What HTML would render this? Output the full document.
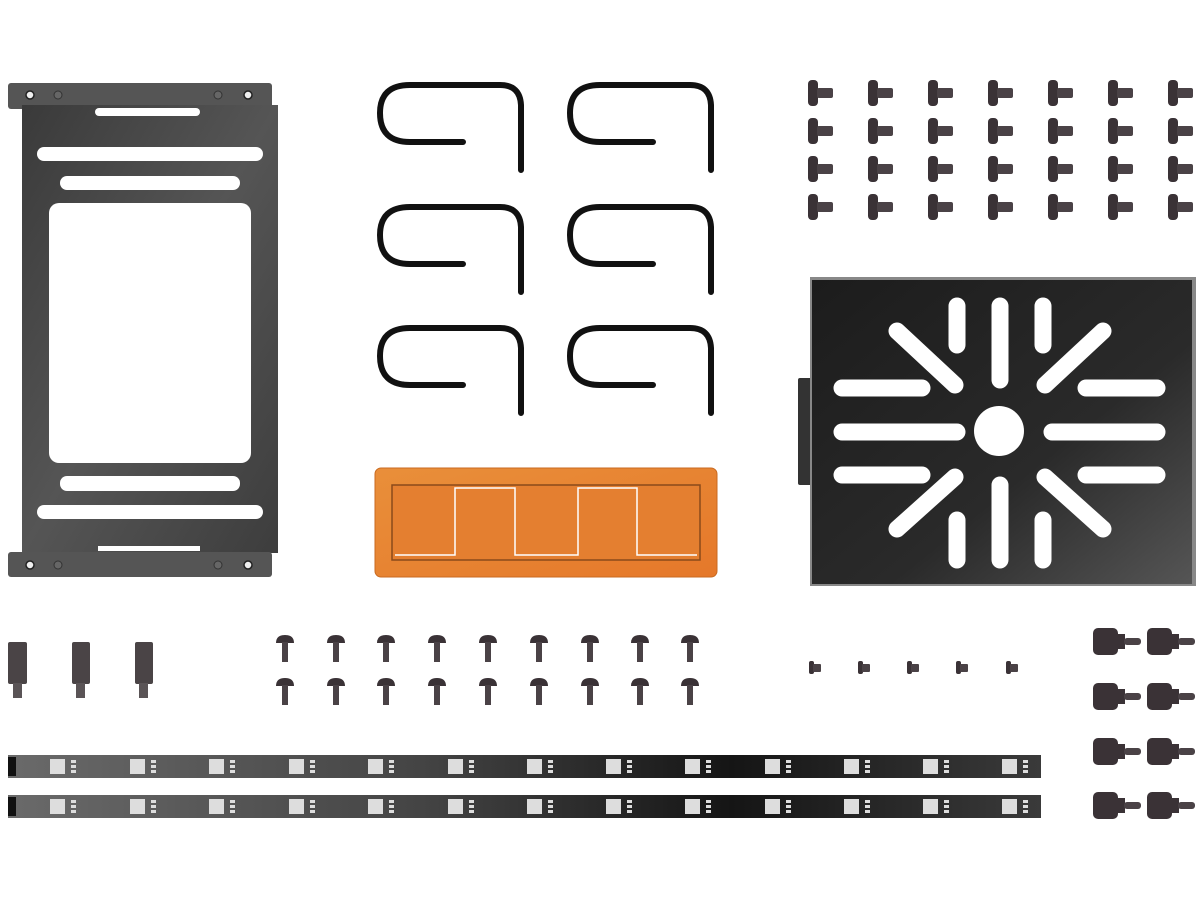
<!DOCTYPE html>
<html><head><meta charset="utf-8"><style>html,body{margin:0;padding:0;background:#fff}svg{display:block}</style></head><body>
<svg width="1200" height="900" viewBox="0 0 1200 900" xmlns="http://www.w3.org/2000/svg">
<defs>
<linearGradient id="plate" x1="0" y1="0" x2="1" y2="1"><stop offset="0" stop-color="#3a3a3a"/><stop offset="0.5" stop-color="#555"/><stop offset="1" stop-color="#3d3d3d"/></linearGradient>
<linearGradient id="tray" x1="0" y1="0" x2="1" y2="1"><stop offset="0" stop-color="#1c1c1c"/><stop offset="0.6" stop-color="#2a2a2a"/><stop offset="1" stop-color="#555"/></linearGradient>
<linearGradient id="strip" x1="0" y1="0" x2="1" y2="0"><stop offset="0" stop-color="#6a6a6a"/><stop offset="0.4" stop-color="#444"/><stop offset="0.7" stop-color="#151515"/><stop offset="1" stop-color="#3a3a3a"/></linearGradient>
<linearGradient id="orange" x1="0" y1="0" x2="1" y2="1"><stop offset="0" stop-color="#e98f3a"/><stop offset="1" stop-color="#e5782a"/></linearGradient>
<g id="ts"><rect x="0" y="0" width="10" height="26" rx="4" fill="#3a3236"/><rect x="9" y="8" width="16" height="10" rx="2" fill="#4a4246"/></g>
<g id="bs"><path d="M0 8 Q0 0 9 0 Q18 0 18 8 Z" fill="#3a3236"/><rect x="6" y="7" width="6" height="20" fill="#4a4246"/></g>
<g id="ss"><rect x="0" y="0" width="5" height="13" rx="2" fill="#3a3236"/><rect x="4" y="3" width="8" height="8" rx="1" fill="#4a4246"/></g>
<g id="big"><rect x="0" y="0" width="25" height="27" rx="5" fill="#3a3236"/><rect x="24" y="6" width="8" height="15" fill="#3a3236"/><rect x="31" y="10" width="17" height="7" rx="3" fill="#4a4246"/></g>
<g id="clip" fill="none" stroke="#111" stroke-width="6" stroke-linecap="round"><path d="M463 142 H410 Q380 142 380 113 Q380 85 410 85 H500 Q520 85 521 105 V170"/></g>
<g id="led"><rect x="0" y="4" width="15" height="15" fill="#ddd"/><rect x="21" y="5" width="5" height="3" fill="#ddd"/><rect x="21" y="10" width="5" height="3" fill="#ddd"/><rect x="21" y="15" width="5" height="3" fill="#ddd"/></g>
</defs>

<g>
<rect x="8" y="83" width="264" height="26" rx="3" fill="#555"/>
<rect x="22" y="105" width="256" height="448" fill="url(#plate)"/>
<rect x="8" y="552" width="264" height="25" rx="3" fill="#555"/>
<rect x="95" y="108" width="105" height="8" rx="4" fill="#fff"/>
<rect x="98" y="546" width="102" height="5" fill="#fff"/>
<g fill="#fff"><rect x="37" y="147" width="226" height="14" rx="7"/><rect x="60" y="176" width="180" height="14" rx="7"/><rect x="49" y="203" width="202" height="260" rx="10"/><rect x="60" y="476" width="180" height="15" rx="7"/><rect x="37" y="505" width="226" height="14" rx="7"/></g>
<g fill="#eee" stroke="#222" stroke-width="1.5"><circle cx="30" cy="95" r="4"/><circle cx="248" cy="95" r="4"/><circle cx="30" cy="565" r="4"/><circle cx="248" cy="565" r="4"/></g>
<g fill="#666" stroke="#333"><circle cx="58" cy="95" r="4"/><circle cx="218" cy="95" r="4"/><circle cx="58" cy="565" r="4"/><circle cx="218" cy="565" r="4"/></g>
</g>

<use href="#clip"/><use href="#clip" x="190"/>
<use href="#clip" y="122"/><use href="#clip" x="190" y="122"/>
<use href="#clip" y="243"/><use href="#clip" x="190" y="243"/>

<rect x="375" y="468" width="342" height="109" rx="6" fill="url(#orange)" stroke="#c96a20"/>
<rect x="392" y="485" width="308" height="75" fill="#e47f30" stroke="#8a4a1a" stroke-width="1.5"/>
<path d="M395 555 H455 V488 H515 V555 H578 V488 H637 V555 H697" fill="none" stroke="#fff" stroke-width="1.5"/>

<g>
<use href="#ts" x="808" y="80"/><use href="#ts" x="868" y="80"/><use href="#ts" x="928" y="80"/><use href="#ts" x="988" y="80"/><use href="#ts" x="1048" y="80"/><use href="#ts" x="1108" y="80"/><use href="#ts" x="1168" y="80"/>
<use href="#ts" x="808" y="118"/><use href="#ts" x="868" y="118"/><use href="#ts" x="928" y="118"/><use href="#ts" x="988" y="118"/><use href="#ts" x="1048" y="118"/><use href="#ts" x="1108" y="118"/><use href="#ts" x="1168" y="118"/>
<use href="#ts" x="808" y="156"/><use href="#ts" x="868" y="156"/><use href="#ts" x="928" y="156"/><use href="#ts" x="988" y="156"/><use href="#ts" x="1048" y="156"/><use href="#ts" x="1108" y="156"/><use href="#ts" x="1168" y="156"/>
<use href="#ts" x="808" y="194"/><use href="#ts" x="868" y="194"/><use href="#ts" x="928" y="194"/><use href="#ts" x="988" y="194"/><use href="#ts" x="1048" y="194"/><use href="#ts" x="1108" y="194"/><use href="#ts" x="1168" y="194"/>
</g>

<rect x="798" y="378" width="16" height="107" rx="2" fill="#333"/>
<rect x="810" y="277" width="386" height="309" fill="#888"/>
<rect x="812" y="280" width="380" height="304" fill="url(#tray)"/>
<g stroke="#fff" stroke-width="17" stroke-linecap="round" fill="none">
<line x1="842" y1="388" x2="922" y2="388"/><line x1="842" y1="432" x2="957" y2="432"/><line x1="842" y1="475" x2="922" y2="475"/>
<line x1="1086" y1="388" x2="1157" y2="388"/><line x1="1052" y1="432" x2="1157" y2="432"/><line x1="1086" y1="475" x2="1157" y2="475"/>
<line x1="1000" y1="306" x2="1000" y2="380"/><line x1="1000" y1="485" x2="1000" y2="560"/>
<line x1="957" y1="306" x2="957" y2="345"/><line x1="1043" y1="306" x2="1043" y2="345"/>
<line x1="957" y1="520" x2="957" y2="560"/><line x1="1043" y1="520" x2="1043" y2="560"/>
<line x1="897" y1="331" x2="955" y2="385"/><line x1="1103" y1="331" x2="1045" y2="385"/>
<line x1="897" y1="529" x2="955" y2="477"/><line x1="1103" y1="529" x2="1045" y2="477"/>
</g>
<circle cx="999" cy="431" r="25" fill="#fff"/>

<g>
<rect x="8" y="642" width="19" height="42" rx="2" fill="#4a4446"/><rect x="13" y="683" width="9" height="15" fill="#5a5456"/>
<rect x="72" y="642" width="18" height="42" rx="2" fill="#4a4446"/><rect x="76" y="683" width="9" height="15" fill="#5a5456"/>
<rect x="135" y="642" width="18" height="42" rx="2" fill="#4a4446"/><rect x="139" y="683" width="9" height="15" fill="#5a5456"/>
</g>

<g>
<use href="#bs" x="276" y="635"/><use href="#bs" x="327" y="635"/><use href="#bs" x="377" y="635"/><use href="#bs" x="428" y="635"/><use href="#bs" x="479" y="635"/><use href="#bs" x="530" y="635"/><use href="#bs" x="581" y="635"/><use href="#bs" x="631" y="635"/><use href="#bs" x="681" y="635"/>
<use href="#bs" x="276" y="678"/><use href="#bs" x="327" y="678"/><use href="#bs" x="377" y="678"/><use href="#bs" x="428" y="678"/><use href="#bs" x="479" y="678"/><use href="#bs" x="530" y="678"/><use href="#bs" x="581" y="678"/><use href="#bs" x="631" y="678"/><use href="#bs" x="681" y="678"/>
</g>

<use href="#ss" x="809" y="661"/><use href="#ss" x="858" y="661"/><use href="#ss" x="907" y="661"/><use href="#ss" x="956" y="661"/><use href="#ss" x="1006" y="661"/>

<use href="#big" x="1093" y="628"/><use href="#big" x="1147" y="628"/>
<use href="#big" x="1093" y="683"/><use href="#big" x="1147" y="683"/>
<use href="#big" x="1093" y="738"/><use href="#big" x="1147" y="738"/>
<use href="#big" x="1093" y="792"/><use href="#big" x="1147" y="792"/>

<g>
<rect x="8" y="755" width="1033" height="23" fill="url(#strip)"/>
<rect x="8" y="795" width="1033" height="23" fill="url(#strip)"/>
<rect x="8" y="757" width="8" height="19" fill="#111"/><rect x="8" y="797" width="8" height="19" fill="#111"/>
<g transform="translate(0,755)">
<use href="#led" x="50"/><use href="#led" x="130"/><use href="#led" x="209"/><use href="#led" x="289"/><use href="#led" x="368"/><use href="#led" x="448"/><use href="#led" x="527"/><use href="#led" x="606"/><use href="#led" x="685"/><use href="#led" x="765"/><use href="#led" x="844"/><use href="#led" x="923"/><use href="#led" x="1002"/>
</g>
<g transform="translate(0,795)">
<use href="#led" x="50"/><use href="#led" x="130"/><use href="#led" x="209"/><use href="#led" x="289"/><use href="#led" x="368"/><use href="#led" x="448"/><use href="#led" x="527"/><use href="#led" x="606"/><use href="#led" x="685"/><use href="#led" x="765"/><use href="#led" x="844"/><use href="#led" x="923"/><use href="#led" x="1002"/>
</g>
</g>
</svg>
</body></html>
